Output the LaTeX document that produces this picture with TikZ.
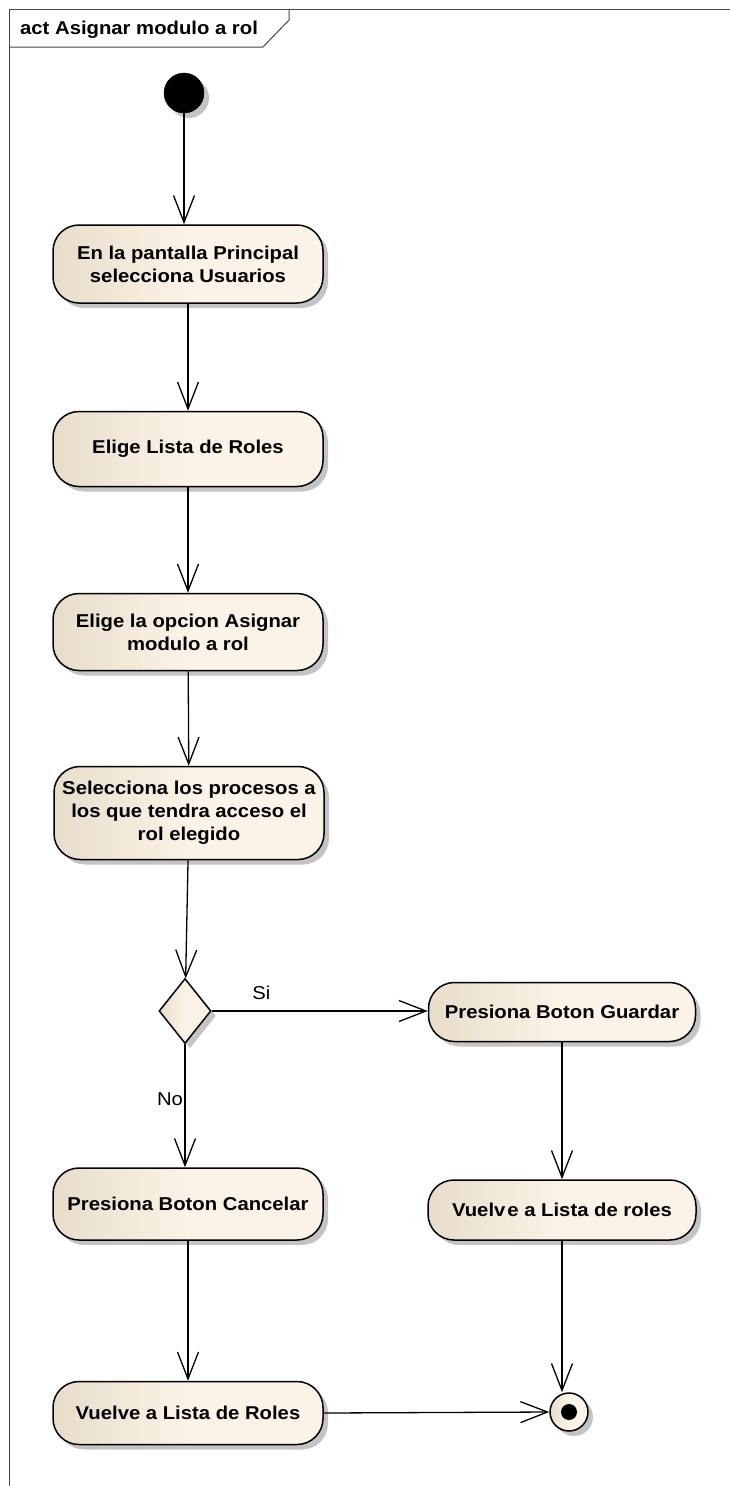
\documentclass[tikz,border=0pt]{standalone}
\usepackage{fontspec}
\setmainfont{Liberation Sans}[FakeStretch=1.09]
\usetikzlibrary{arrows.meta,shapes.geometric,shadows}

\definecolor{nodeleft}{RGB}{232,221,203}
\definecolor{noderight}{RGB}{251,243,231}
\definecolor{framegray}{RGB}{70,70,70}
\definecolor{shadowgray}{RGB}{196,196,196}
\newcommand\actfont{\bfseries\fontsize{18.6}{23}\selectfont}
\newcommand\guardfont{\fontsize{18.6}{23}\selectfont}

\begin{document}
\begin{tikzpicture}[x=1pt,y=-1pt,
  base/.style={draw=black, line width=1.5pt, left color=nodeleft, right color=noderight, middle color=noderight},
  dropshade/.style={drop shadow={shadow xshift=5pt, shadow yshift=-5pt, fill=shadowgray, opacity=1}},
  action/.style={base, dropshade, rounded corners=26pt, minimum width=270pt, inner sep=0pt, align=center, font=\actfont, text=black},
  decision/.style={base, dropshade, diamond, minimum width=52pt, minimum height=65pt, inner sep=0pt},
  flow/.style={line width=1.3pt, -{Straight Barb[length=27pt,width=21pt,line width=1.3pt]}},
  guard/.style={font=\guardfont, inner sep=0pt}
]
\useasboundingbox (0,0) rectangle (730,1486);

% diagram frame with its name tab
\draw[framegray, line width=1pt] (9,1486) -- (9,9) -- (730,9);
\draw[framegray, line width=1pt] (9,47) -- (263,47) -- (289,20) -- (289,9);
\node[font=\actfont, anchor=base west, inner sep=0pt] (title) at (20,34) {act Asignar modulo a rol};

% activity nodes
\node[circle, fill=black, draw=black, minimum size=40pt, inner sep=0pt, dropshade] (start) at (184,93) {};
\node[action, minimum height=78pt] (a1) at (188,264) {En la pantalla Principal\\selecciona Usuarios};
\node[action, minimum height=75pt] (a2) at (188,449) {Elige Lista de Roles};
\node[action, minimum height=77pt] (a3) at (188,632) {Elige la opcion Asignar\\modulo a rol};
\node[action, minimum height=93pt] (a4) at (189,813) {Selecciona los procesos a\\los que tendra acceso el\\rol elegido};
\node[decision] (dec) at (185,1011) {};
\node[action, minimum height=59pt, minimum width=267pt] (b1) at (562,1012) {Presiona Boton Guardar};
\node[action, minimum height=72pt] (c1) at (188,1204) {Presiona Boton Cancelar};
\node[action, minimum height=60pt, minimum width=268pt] (b2) at (562,1210) {Vuelv\kern2pt e a Lista de roles};
\node[action, minimum height=63pt] (c2) at (188,1413) {Vuelve a Lista de Roles};
\node[circle, base, minimum size=38pt, inner sep=0pt, dropshade] (fin) at (569,1412) {};
\node[circle, fill=black, minimum size=16pt, inner sep=0pt] (findot) at (fin.center) {};

% control flows
\draw[flow] (start) -- (start |- a1.north);
\draw[flow] (a1) -- (a2);
\draw[flow] (a2) -- (a3);
\draw[flow] (a3) -- (a4);
\draw[flow] (a4) -- (dec);
\draw[flow] (dec.east) -- (dec.east -| b1.west)
  node[guard, pos=0.23, yshift=18pt] (si) {Si};
\draw[flow] (dec.south) -- (dec.south |- c1.north)
  node[guard, pos=0.45, xshift=-15pt] (no) {No};
\draw[flow] (b1) -- (b2);
\draw[flow] (c1) -- (c2);
\draw[flow] (b2.south) -- (b2.south |- fin.north);
\draw[flow] (c2.east) -- (fin.west);
\end{tikzpicture}
\end{document}
